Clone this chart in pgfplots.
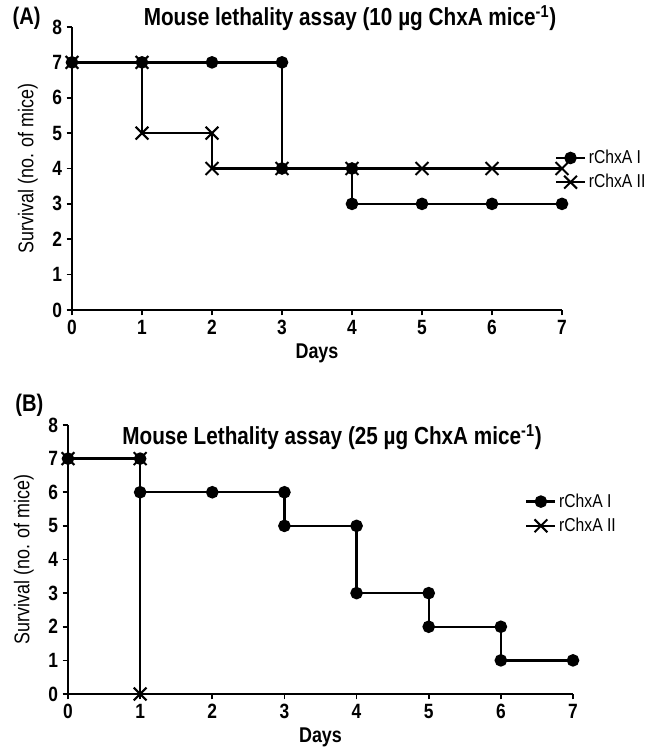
\documentclass[border=0pt]{standalone}
\usepackage{fontspec}
\setmainfont{Liberation Sans}[FakeStretch=0.84]
\usepackage{pgfplots}
\pgfplotsset{compat=1.18}

\pgfplotsset{
  survival/.style={
    scale only axis,
    axis lines*=left,
    axis line style={line width=1.5pt},
    every tick/.style={line width=1.2pt, black},
    tick align=outside,
    major tick length=4pt,
    xmin=0, xmax=7, ymin=0, ymax=8,
    xtick={0,...,7}, ytick={0,...,8},
    clip=false,
    /pgf/number format/assume math mode=true,
    ticklabel style={font=\fontsize{15.5}{17}\selectfont\bfseries},
    xlabel={\bfseries Days},
    ylabel={Survival (no. of mice)},
    ylabel shift=4pt,
    label style={font=\fontsize{16}{18}\selectfont},
    legend style={draw=none, fill=none, font=\fontsize{14}{16}\selectfont,
      inner sep=0pt, row sep=2.5pt},
    legend cell align=left,
    legend image code/.code={
      \draw[mark repeat=2, mark phase=2] plot coordinates {(0cm,0cm) (0.38cm,0cm) (0.76cm,0cm)};
    },
  },
  s1/.style={draw=black, line width=1.8pt, mark=*, mark size=3.8pt,
    mark options={fill=black}},
  s2/.style={draw=black, line width=1.8pt, mark=x, mark size=6.8pt,
    mark options={line width=1.5pt}},
}

\begin{document}
\begin{tikzpicture}
\useasboundingbox (0,0) rectangle (498pt,561.75pt);

% (A) 10 ug
\begin{axis}[survival, at={(54pt,329.25pt)}, anchor=origin,
  width=367.5pt, height=212.25pt,
  legend style={at={(rel axis cs:0.985,0.575)}, anchor=north west}]
\addplot[s1] coordinates {(0,7) (1,7) (2,7) (3,7) (3,4) (4,4) (4,3) (5,3) (6,3) (7,3)};
\addplot[s2] coordinates {(0,7) (1,7) (1,5) (2,5) (2,4) (3,4) (4,4) (5,4) (6,4) (7,4)};
\legend{rChxA I, rChxA II}
\end{axis}

% (B) 25 ug
\begin{axis}[survival, at={(51pt,41.25pt)}, anchor=origin,
  width=378.75pt, height=201.75pt,
  legend style={at={(rel axis cs:0.905,0.755)}, anchor=north west}]
\addplot[s1] coordinates {(0,7) (1,7) (1,6) (2,6) (3,6) (3,5) (4,5) (4,3) (5,3) (5,2) (6,2) (6,1) (7,1)};
\addplot[s2] coordinates {(0,7) (1,7) (1,0)};
\legend{rChxA I, rChxA II}
\end{axis}

\node[font=\fontsize{18.5}{21}\selectfont\bfseries] at (262.5pt,548pt)
  {Mouse lethality assay (10 µg ChxA mice\textsuperscript{-1})};
\node[font=\fontsize{18}{20}\selectfont\bfseries] at (20pt,548pt) {(A)};
\node[font=\fontsize{18.5}{21}\selectfont\bfseries] at (249pt,234pt)
  {Mouse Lethality assay (25 µg ChxA mice\textsuperscript{-1})};
\node[font=\fontsize{18}{20}\selectfont\bfseries] at (22pt,258pt) {(B)};
\end{tikzpicture}
\end{document}
